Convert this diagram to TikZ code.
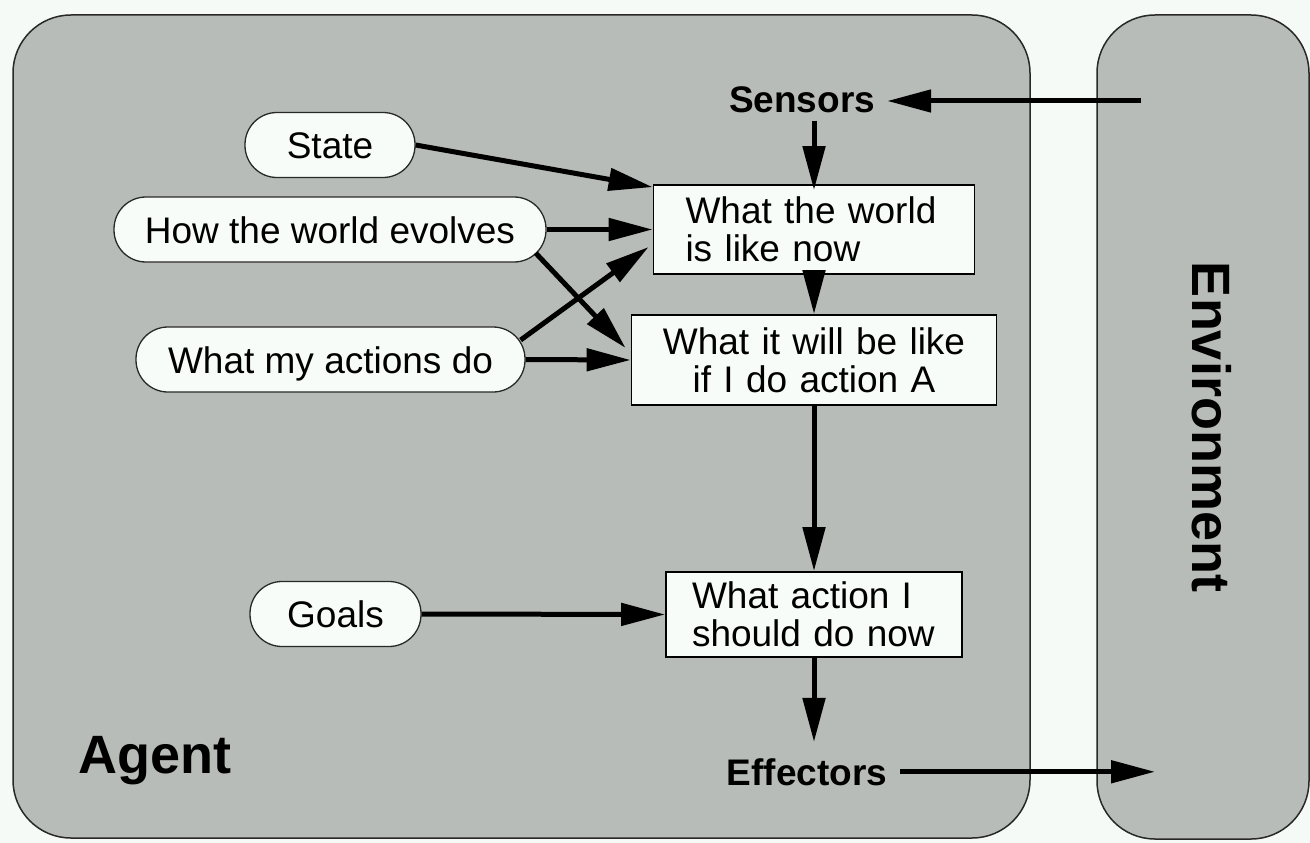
\documentclass[tikz,border=0pt]{standalone}
\usepackage{fontspec}
\setmainfont{Liberation Sans}
\usetikzlibrary{arrows.meta,calc}
\definecolor{bg}{RGB}{246,250,246}
\definecolor{panel}{RGB}{184,188,184}
\definecolor{boxfill}{RGB}{248,252,248}
\definecolor{edge}{RGB}{40,40,40}
\begin{document}
\begin{tikzpicture}[x=1pt,y=-1pt,
  panelst/.style={fill=panel,draw=edge,line width=1.5pt,rounded corners=58pt},
  oval/.style={draw=edge,fill=boxfill,line width=1.3pt,rounded corners=32pt,
    minimum height=65pt,inner sep=0pt,text height=27pt,text depth=0pt,
    font=\fontsize{37}{38}\selectfont},
  sqbox/.style={draw=black,fill=boxfill,line width=1.8pt,inner ysep=0pt,
    font=\fontsize{37}{38}\selectfont},
  lbl/.style={inner sep=0pt,anchor=base,font=\fontsize{37}{40}\selectfont\bfseries},
  big/.style={inner sep=0pt,font=\fontsize{54}{60}\selectfont\bfseries},
  arr/.style={line width=5pt,-{Triangle[length=44pt,width=22pt]}}]
\fill[bg] (0,0) rectangle (1310,843);
\useasboundingbox (0,0) rectangle (1310,843);
% panels
\draw[panelst] (13,15) rectangle (1030,838);
\draw[panelst] (1097,15) rectangle (1309,839);
% labels
\node[big,anchor=base] (agentlbl) at (155,773) {Agent};
\node[big,rotate=-90] (envlbl) at (1212,427) {Environment};
\node[lbl] (sensors) at (802,113) {Sensors};
\node[lbl] (effectors) at (807,785) {Effectors};
\coordinate (envin) at (1141,101);
\coordinate (envout) at (1155,773);
% ovals
\node[oval,minimum width=170pt] (state) at (330,145) {State};
\node[oval,minimum width=432pt] (how) at (330,229.5) {How the world evolves};
\node[oval,minimum width=389pt] (acts) at (330.5,359.5) {What my actions do};
\node[oval,minimum width=171pt] (goals) at (335.5,614) {Goals};
% boxes
\node[sqbox,minimum width=321pt,minimum height=89pt,text width=257pt,
  inner xsep=32pt,align=left] (box1) at (814,229.5) {What the world\\is like now};
\node[sqbox,minimum width=365pt,minimum height=90pt,text width=325pt,
  inner xsep=20pt,align=center] (box2) at (814,360) {What it will be like\\if I do action A};
\node[sqbox,minimum width=296pt,minimum height=85pt,text width=244pt,
  inner xsep=26pt,align=left] (box3) at (814,614.5) {What action I\\should do now};
% connectors
\draw[arr] (envin) -- ($(envin -| sensors.east)+(12,0)$);
\draw[arr] ($(sensors.south -| box1.north)+(0,7)$) -- ($(box1.north)+(0,6)$);
\draw[arr] (state.east) -- ($(box1.north west)+(0,3)$);
\draw[arr] (how.east) -- (box1.west);
\draw[arr] ($(how.east)+(-11,23.5)$) -- ($(box2.west)+(-5,-12)$);
\draw[arr] ($(acts.east)+(-5,-19.5)$) -- ($(box1.west)+(-4,17.5)$);
\draw[arr] (acts.east) -- (box2.west);
\draw[arr] (box1.south) -- (box2.north);
\draw[arr] (box2.south) -- (box3.north);
\draw[arr] (goals.east) -- (box3.west);
\draw[arr] (box3.south) -- ($(box3.south |- effectors.north)+(0,-16)$);
\draw[arr] ($(effectors.east)+(13,0)$) -- (effectors.east -| envout);
\end{tikzpicture}
\end{document}
